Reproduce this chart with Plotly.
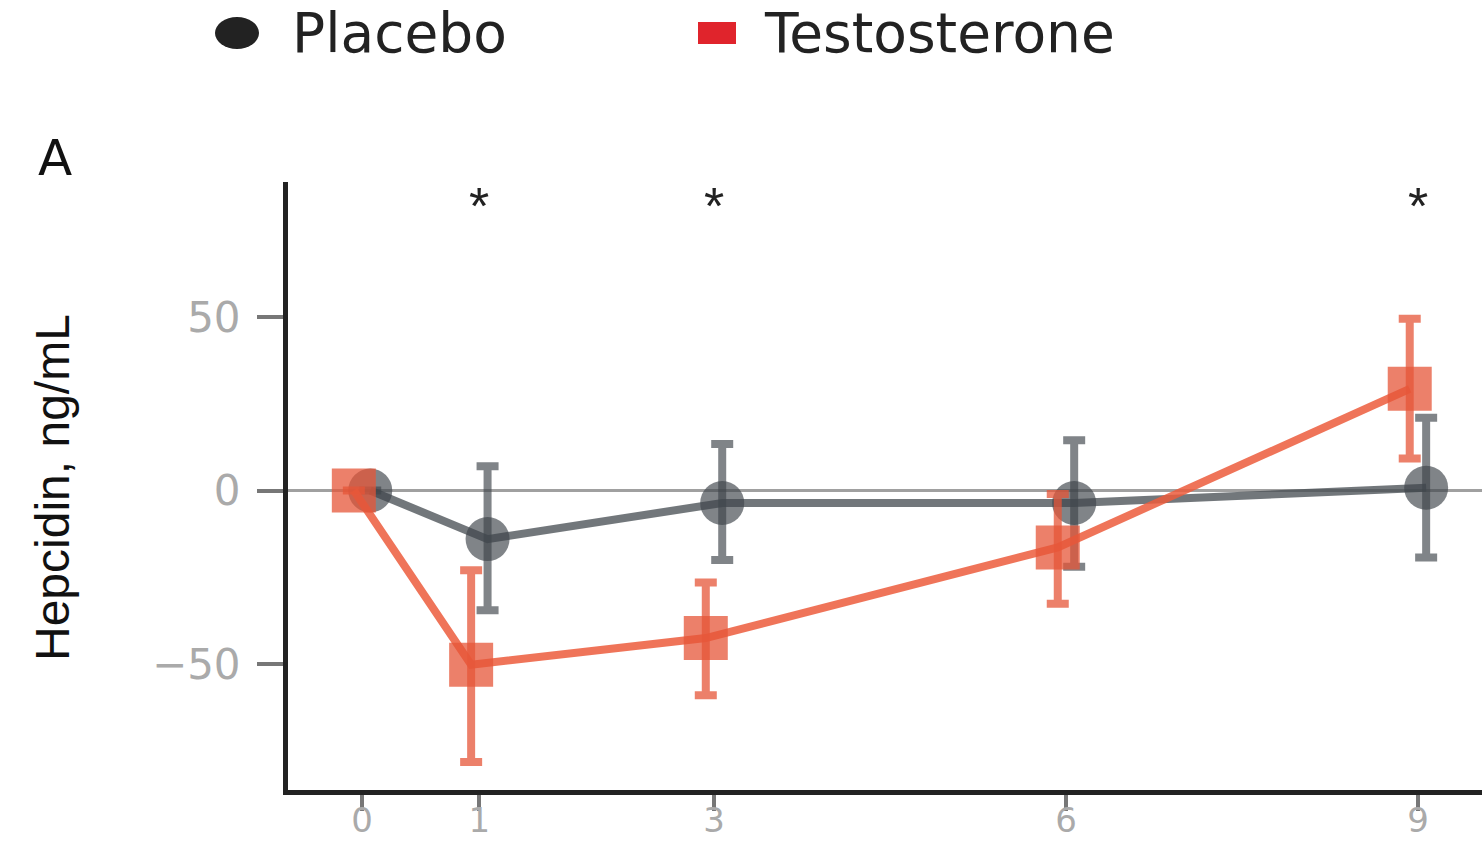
import plotly.graph_objects as go

# ---- data ----
months = [0, 1, 3, 6, 9]
tick_labels = ["0", "1", "3", "6", "9"]
placebo_mean = [0, -14, -3.6, -3.6, 0.8]
placebo_upper = [None, 7, 13.4, 14.5, 21]
placebo_lower = [None, -34.5, -20, -22, -19.3]
testo_mean = [0, -50.2, -42.5, -16.4, 29.3]
testo_upper = [None, -23, -26.5, -1, 49.5]
testo_lower = [None, -78.2, -59, -32.6, 9.2]
star_months = [1, 3, 9]
y_ticks = [-50, 0, 50]
legend_names = ["Placebo", "Testosterone"]
y_title = "Hepcidin, ng/mL"
panel_label = "A"

DODGE = 0.07
W, H = 1482, 846
ML, MR, MT, MB = 288, 0, 182, 56
PW, PH = W - ML - MR, H - MT - MB


def err_plus(mean, up):
    return [None if u is None else u - m for m, u in zip(mean, up)]


def err_minus(mean, lo):
    return [None if l is None else m - l for m, l in zip(mean, lo)]


def px_x(x):
    return (x - ML) / PW


def px_y(y):
    return (H - MB - y) / PH


grey = "rgba(62,68,74,0.66)"
grey_line = "rgba(70,76,82,0.76)"
orange = "rgba(230,86,56,0.75)"
orange_line = "rgba(236,92,60,0.85)"

fig = go.Figure()

fig.add_trace(go.Scatter(
    x=[m + DODGE for m in months], y=placebo_mean,
    mode="lines+markers", name=legend_names[0], showlegend=False,
    line=dict(color=grey_line, width=8),
    marker=dict(symbol="circle", size=44, color=grey),
    error_y=dict(type="data", symmetric=False,
                 array=err_plus(placebo_mean, placebo_upper),
                 arrayminus=err_minus(placebo_mean, placebo_lower),
                 color=grey, thickness=8, width=11),
))

fig.add_trace(go.Scatter(
    x=[m - DODGE for m in months], y=testo_mean,
    mode="lines+markers", name=legend_names[1], showlegend=False,
    line=dict(color=orange_line, width=8),
    marker=dict(symbol="square", size=44, color=orange),
    error_y=dict(type="data", symmetric=False,
                 array=err_plus(testo_mean, testo_upper),
                 arrayminus=err_minus(testo_mean, testo_lower),
                 color=orange, thickness=8, width=11),
))

annotations = []
for m in star_months:
    annotations.append(dict(x=m, y=82, xref="x", yref="y", text="*",
                            showarrow=False, xanchor="center", yanchor="middle",
                            font=dict(family="Liberation Sans", size=52, color="#222")))

# panel label
annotations.append(dict(x=px_x(55), y=px_y(158), xref="paper", yref="paper",
                        text=panel_label, showarrow=False, xanchor="center", yanchor="middle",
                        font=dict(family="DejaVu Sans", size=50, color="#111")))
# y-axis title
annotations.append(dict(x=px_x(52), y=px_y(488), xref="paper", yref="paper",
                        text=y_title, showarrow=False, textangle=-90,
                        xanchor="center", yanchor="middle",
                        font=dict(family="Liberation Sans", size=48, color="#111")))
# legend texts
annotations.append(dict(x=px_x(290), y=px_y(33), xref="paper", yref="paper",
                        text=legend_names[0], showarrow=False, xanchor="left", yanchor="middle",
                        font=dict(family="DejaVu Sans", size=55, color="#222")))
annotations.append(dict(x=px_x(762), y=px_y(33), xref="paper", yref="paper",
                        text=legend_names[1], showarrow=False, xanchor="left", yanchor="middle",
                        font=dict(family="DejaVu Sans", size=55, color="#222")))

shapes = [
    dict(type="circle", xref="paper", yref="paper", xsizemode="pixel", ysizemode="pixel",
         xanchor=px_x(237), yanchor=px_y(33), x0=-22, x1=22, y0=-16, y1=16,
         fillcolor="#222", line=dict(width=0)),
    dict(type="rect", xref="paper", yref="paper", xsizemode="pixel", ysizemode="pixel",
         xanchor=px_x(717), yanchor=px_y(33), x0=-19, x1=19, y0=-11, y1=11,
         fillcolor="#e0242c", line=dict(width=0)),
]

fig.update_layout(
    width=W, height=H, autosize=False,
    margin=dict(l=ML, r=MR, t=MT, b=MB),
    paper_bgcolor="white", plot_bgcolor="white",
    showlegend=False,
    annotations=annotations, shapes=shapes,
    font=dict(family="DejaVu Sans"),
)

fig.update_xaxes(
    automargin=False,
    range=[-0.631, 9.546], tickmode="array", tickvals=months, ticktext=tick_labels,
    showgrid=False, zeroline=False,
    showline=True, linewidth=5, linecolor="#222",
    ticks="outside", ticklen=16, tickwidth=4, tickcolor="#777",
    ticklabelstandoff=-20,
    tickfont=dict(family="DejaVu Sans", size=34, color="#aaa"),
)
fig.update_yaxes(
    automargin=False,
    range=[-86.3, 88.9], tickmode="array", tickvals=y_ticks,
    showgrid=False, zeroline=True, zerolinecolor="#a0a0a0", zerolinewidth=3,
    showline=True, linewidth=5, linecolor="#222",
    ticks="outside", ticklen=26, tickwidth=4, tickcolor="#777",
    ticklabelstandoff=8,
    tickfont=dict(family="DejaVu Sans", size=42, color="#aaa"),
)

fig.write_html("out.html")
